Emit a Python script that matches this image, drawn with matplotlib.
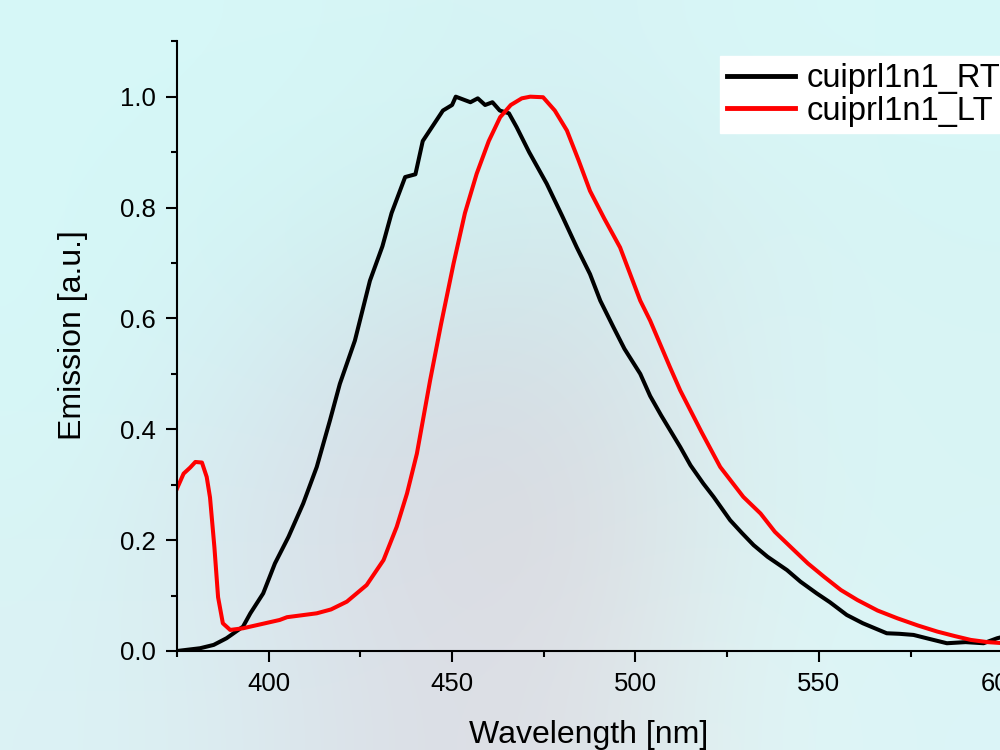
import matplotlib
matplotlib.use("Agg")
import matplotlib.pyplot as plt
import numpy as np
from matplotlib.ticker import MultipleLocator

plt.rcParams['font.family'] = ['Liberation Sans', 'DejaVu Sans']

# RT emission (black)
wl_rt = [375, 381.3, 385, 388.5, 393, 395, 398.5, 401.7, 405.4, 409.4, 413.1,
         416.7, 419.4, 423.5, 427.6, 431, 433.5, 437.2, 440, 442, 445, 447.5,
         450, 451, 453, 455, 457, 459, 461, 463, 465.5, 467.6, 471, 475.8,
         480, 484, 487.6, 490.4, 494, 497, 501.3, 504, 507, 512.2, 515,
         518.5, 521.3, 525.8, 529, 532.2, 536, 541.3, 545, 549.4, 553,
         557.6, 562, 568.5, 572, 575.8, 580, 584.9, 590, 594.9, 598.6, 601]
em_rt = [0.0, 0.005, 0.011, 0.023, 0.044, 0.068, 0.104, 0.158, 0.206, 0.266, 0.332,
         0.416, 0.482, 0.56, 0.668, 0.73, 0.79, 0.855, 0.86, 0.92, 0.95, 0.975,
         0.985, 1.0, 0.995, 0.99, 0.997, 0.985, 0.99, 0.975, 0.97, 0.945, 0.9, 0.843,
         0.785, 0.728, 0.68, 0.632, 0.584, 0.545, 0.5, 0.46, 0.425, 0.368, 0.335,
         0.302, 0.278, 0.236, 0.213, 0.191, 0.17, 0.146, 0.125, 0.104, 0.088,
         0.065, 0.05, 0.032, 0.031, 0.029, 0.022, 0.014, 0.016, 0.014, 0.023, 0.027]

# LT emission (red)
wl_lt = [375, 376.8, 378.6, 380, 381.8, 383.1, 384, 385.2, 386.2, 387.5, 389.5,
         393, 395, 403, 405, 413.1, 417, 421.3, 426.7, 431.3, 434.9, 437.7,
         440.4, 442.2, 444, 447, 450.4, 453.5, 456.7, 460, 463.1, 466, 469,
         471.3, 474.8, 478, 481.3, 484.5, 487.6, 491.5, 495.8, 501.3, 504,
         509.4, 512.2, 518, 523.1, 525.9, 529.4, 534.1, 538, 543.2, 547,
         551.4, 556, 560.5, 566, 571.4, 577, 582.3, 587, 591.4, 596, 600.5]
em_lt = [0.293, 0.32, 0.331, 0.341, 0.34, 0.314, 0.277, 0.187, 0.097, 0.05, 0.038,
         0.041, 0.044, 0.056, 0.061, 0.068, 0.075, 0.089, 0.119, 0.164, 0.224, 0.284,
         0.356, 0.422, 0.488, 0.59, 0.699, 0.79, 0.861, 0.92, 0.963, 0.985, 0.997,
         1.0, 0.999, 0.975, 0.939, 0.885, 0.83, 0.78, 0.728, 0.632, 0.596,
         0.512, 0.47, 0.395, 0.332, 0.308, 0.278, 0.248, 0.215, 0.182, 0.158,
         0.134, 0.11, 0.092, 0.073, 0.059, 0.046, 0.035, 0.027, 0.02, 0.016, 0.014]

# soft background colours (decoration only)
bg = np.array([
    [[0.84, 0.97, 0.97], [0.84, 0.97, 0.97], [0.84, 0.96, 0.96], [0.84, 0.95, 0.96], [0.85, 0.97, 0.97], [0.84, 0.97, 0.97]],
    [[0.84, 0.97, 0.97], [0.83, 0.96, 0.96], [0.82, 0.94, 0.94], [0.82, 0.92, 0.93], [0.85, 0.95, 0.95], [0.84, 0.96, 0.96]],
    [[0.84, 0.97, 0.97], [0.84, 0.93, 0.95], [0.83, 0.87, 0.90], [0.84, 0.88, 0.90], [0.86, 0.95, 0.96], [0.85, 0.96, 0.96]],
    [[0.85, 0.96, 0.96], [0.85, 0.90, 0.93], [0.85, 0.86, 0.89], [0.86, 0.86, 0.88], [0.86, 0.95, 0.95], [0.85, 0.96, 0.96]],
    [[0.86, 0.95, 0.96], [0.86, 0.92, 0.94], [0.86, 0.87, 0.90], [0.87, 0.88, 0.90], [0.88, 0.96, 0.96], [0.86, 0.96, 0.97]],
])

fig = plt.figure(figsize=(10, 7.5), dpi=100)
bgax = fig.add_axes([0, 0, 1, 1])
bgax.imshow(bg, aspect='auto', interpolation='bicubic', extent=[0, 1, 0, 1])
bgax.axis('off')

ax = fig.add_axes([0.177, 0.132, 0.972, 0.813])
ax.patch.set_alpha(0)
ax.plot(wl_rt, em_rt, color='black', lw=2.9, label='cuiprl1n1_RT')
ax.plot(wl_lt, em_lt, color='red', lw=2.9, label='cuiprl1n1_LT')

ax.set_xlim(375, 640)
ax.set_ylim(0, 1.1)
ax.xaxis.set_major_locator(MultipleLocator(50))
ax.xaxis.set_minor_locator(MultipleLocator(25))
ax.yaxis.set_major_locator(MultipleLocator(0.2))
ax.yaxis.set_minor_locator(MultipleLocator(0.1))
ax.yaxis.set_major_formatter(plt.FuncFormatter(lambda v, p: f"{v:.1f}"))

for s in ['top', 'right']:
    ax.spines[s].set_visible(False)
for s in ['left', 'bottom']:
    ax.spines[s].set_linewidth(1.5)
ax.tick_params(which='major', direction='out', length=8, width=1.5, labelsize=18.5, pad=7)
ax.tick_params(which='minor', direction='out', length=4.5, width=1.5)

ax.set_xlabel('Wavelength [nm]', fontsize=23)
ax.xaxis.set_label_coords(0.423, -0.113)
ax.set_ylabel('Emission [a.u.]', fontsize=23)
ax.yaxis.set_label_coords(-0.092, 0.518)

leg = ax.legend(loc='upper left', bbox_to_anchor=(0.559, 0.975), fontsize=23.5,
                frameon=True, fancybox=False, handlelength=2.1, borderpad=0.2,
                labelspacing=0.05, handletextpad=0.35, borderaxespad=0)
leg.get_frame().set_facecolor('white')
leg.get_frame().set_edgecolor('white')
leg.get_frame().set_alpha(1)
for line in leg.get_lines():
    line.set_linewidth(3.5)

plt.savefig('out.png', dpi=100)
